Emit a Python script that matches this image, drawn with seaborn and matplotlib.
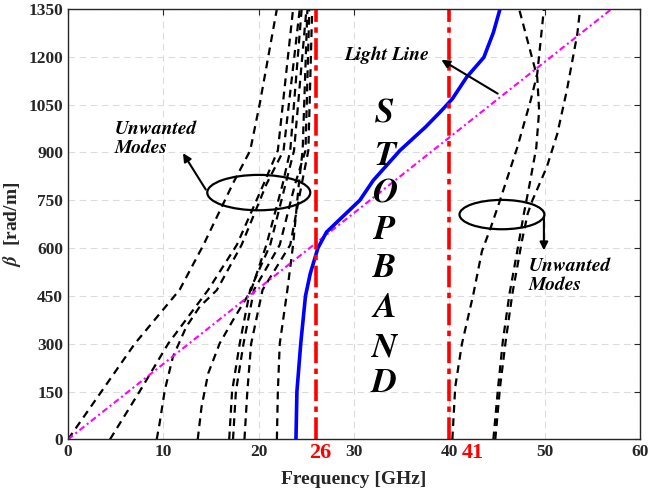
import pandas as pd
import matplotlib
matplotlib.use("Agg")
import matplotlib.pyplot as plt
from matplotlib.patches import Ellipse
import seaborn as sns

# dispersion curves (frequency in GHz, beta in rad/m)
blue_f = [23.9, 24.0, 24.4, 24.9, 25.4, 26.2, 27.1, 28.5, 30.6, 32.0, 34.8, 37.5, 39.0, 40.3, 41.8, 43.6, 44.6, 45.3]
blue_b = [0, 150, 300, 450, 520, 600, 650, 690, 750, 812, 906, 980, 1026, 1068, 1136, 1198, 1276, 1350]

light_f = [0, 57.0]
light_b = [0, 1350]

# unwanted modes, left group
m1_f = [0, 7.0, 11.7, 14.2, 17.3, 19.1, 20.1, 21.9]
m1_b = [0, 300, 469, 610, 803, 906, 1052, 1350]
m2_f = [4.4, 7.5, 10.5, 14.7, 17.7, 20.5, 22.0, 23.6]
m2_b = [0, 150, 300, 469, 610, 800, 906, 1350]
m3_f = [9.3, 9.6, 10.15, 11.0, 12.4, 13.8, 15.6, 18.2, 20.8, 22.6, 24.3]
m3_b = [0, 50, 155, 259, 353, 416, 468, 610, 800, 906, 1350]
m4_f = [13.6, 14.0, 14.7, 15.9, 17.3, 19.2, 20.8, 22.5, 23.3, 24.5]
m4_b = [0, 102, 207, 301, 374, 468, 610, 800, 906, 1350]
m5_f = [16.9, 17.2, 18.0, 19.1, 21.2, 22.8, 23.7, 25.0]
m5_b = [0, 150, 300, 469, 610, 800, 906, 1350]
m6_f = [17.3, 17.6, 18.4, 19.5, 22.2, 23.8, 24.9, 25.3]
m6_b = [0, 150, 300, 469, 610, 800, 906, 1350]
m7_f = [18.5, 18.8, 19.2, 20.4, 23.3, 24.5, 25.2, 25.6]
m7_b = [0, 150, 300, 469, 610, 800, 906, 1350]
m8_f = [21.9, 22.0, 22.2, 23.0, 23.6, 24.2, 24.6, 25.1]
m8_b = [0, 150, 300, 469, 610, 800, 906, 1350]

# unwanted modes, right group
r1_f = [40.3, 40.6, 41.3, 42.5, 43.4, 44.3, 45.3, 47.1, 48.5, 49.2, 49.9]
r1_b = [0, 164, 299, 455, 590, 662, 750, 915, 1062, 1146, 1350]
r2_f = [44.6, 45.1, 45.6, 46.3, 46.8, 47.3, 47.8, 48.4, 49.1, 49.4, 49.2, 47.3]
r2_b = [0, 164, 310, 458, 540, 623, 708, 800, 915, 1031, 1136, 1350]
r3_f = [44.8, 45.3, 45.9, 46.6, 47.1, 47.6, 48.2, 48.7, 50.2, 51.3, 52.3, 53.4, 53.7]
r3_b = [0, 164, 310, 458, 540, 623, 708, 750, 854, 958, 1094, 1271, 1350]

left_modes = [(m1_f, m1_b), (m2_f, m2_b), (m3_f, m3_b), (m4_f, m4_b),
              (m5_f, m5_b), (m6_f, m6_b), (m7_f, m7_b), (m8_f, m8_b)]
right_modes = [(r1_f, r1_b), (r2_f, r2_b), (r3_f, r3_b)]

stop_edges = [26, 40]
stop_labels = ["26", "41"]
stop_letters = list("STOPBAND")
letter_b = [1021, 889, 771, 655, 536, 411, 287, 175]

xticks = list(range(0, 61, 10))
yticks = list(range(0, 1351, 150))

sns.set_style("whitegrid", {"grid.linestyle": (0, (6, 4)), "grid.color": "#dcdcdc"})
plt.rcParams['font.family'] = ['Liberation Serif', 'DejaVu Serif']
plt.rcParams['font.weight'] = 'bold'
plt.rcParams['mathtext.fontset'] = 'stix'

# bold italic lettering (Times-like, bundled with matplotlib)
ital = dict(family="STIXGeneral", fontstyle="italic", fontweight="bold", color="black")

fig = plt.figure(figsize=(6.48, 4.97), dpi=100)
ax = fig.add_axes([0.105, 0.116, 0.883, 0.866])

for f, b in left_modes + right_modes:
    sns.lineplot(x=f, y=b, sort=False, estimator=None, ax=ax, color="black",
                 lw=1.6, linestyle=(0, (3.5, 2.5)))

sns.lineplot(x=light_f, y=light_b, sort=False, estimator=None, ax=ax, color="magenta",
             lw=1.5, linestyle=(0, (3, 1.5, 1, 1.5)))
sns.lineplot(x=blue_f, y=blue_b, sort=False, estimator=None, ax=ax, color="blue", lw=2.6)

for f in stop_edges:
    sns.lineplot(x=[f, f], y=[0, 1350], sort=False, estimator=None, ax=ax, color="red",
                 lw=2.6, linestyle=(0, (6, 1.5, 1.5, 1.5)))

# red labels under the stop band edges
ax.text(26.4, -42, stop_labels[0], color="red", fontsize=16, ha="center", va="center",
        fontweight="bold", clip_on=False)
ax.text(42.4, -42, stop_labels[1], color="red", fontsize=16, ha="center", va="center",
        fontweight="bold", clip_on=False)

for ch, b in zip(stop_letters, letter_b):
    ax.text(33.2, b, ch, fontsize=25, ha="center", va="center", **ital)

# annotations
ax.text(29.0, 1205, "Light Line", fontsize=14, ha="left", va="center", **ital)
ax.annotate("", xy=(38.9, 1195), xytext=(45.3, 1080),
            arrowprops=dict(arrowstyle="-|>", color="black", lw=1.5, mutation_scale=12))

ax.add_patch(Ellipse((20.0, 774), 10.8, 111, fill=False, color="black", lw=1.6))
ax.text(4.9, 944, "Unwanted\nModes", fontsize=14, ha="left", va="center",
        linespacing=1.1, **ital)
ax.annotate("", xy=(11.9, 905), xytext=(14.6, 776),
            arrowprops=dict(arrowstyle="-|>", color="black", lw=1.5, mutation_scale=12))

ax.add_patch(Ellipse((45.5, 705), 8.9, 92, fill=False, color="black", lw=1.6))
ax.text(48.3, 512, "Unwanted\nModes", fontsize=14, ha="left", va="center",
        linespacing=1.1, **ital)
ax.annotate("", xy=(49.9, 584), xytext=(49.9, 705),
            arrowprops=dict(arrowstyle="-|>", color="black", lw=1.5, mutation_scale=12))

ax.set_xlim(0, 60)
ax.set_ylim(0, 1350)
ax.set_xticks(xticks)
ax.set_yticks(yticks)
ax.tick_params(direction="in", top=True, right=True, length=4, labelsize=12.5,
               colors="#262626")
for lab in ax.get_xticklabels() + ax.get_yticklabels():
    lab.set_fontweight("bold")
for sp in ax.spines.values():
    sp.set_color("#262626")
    sp.set_linewidth(1.0)

ax.set_xlabel("Frequency [GHz]", fontsize=14, fontweight="bold", color="#262626", labelpad=8)
ax.set_ylabel(r"$\beta$  [rad/m]", fontsize=14, fontweight="bold", color="#262626", labelpad=4)

fig.savefig("out.png", dpi=100)
